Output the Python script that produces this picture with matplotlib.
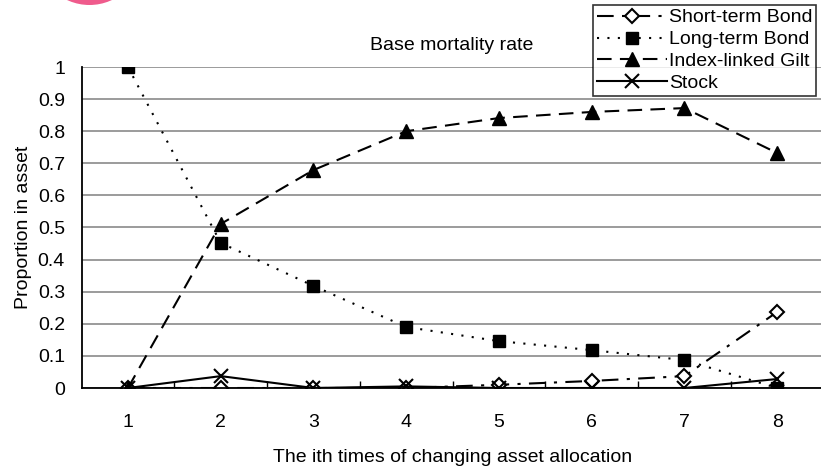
import matplotlib.pyplot as plt
from matplotlib.patches import Circle
from matplotlib.transforms import IdentityTransform

plt.rcParams['font.family'] = ['Liberation Sans', 'DejaVu Sans']

times = [1, 2, 3, 4, 5, 6, 7, 8]
short_bond = [0, 0, 0, 0, 0.01, 0.022, 0.037, 0.237]
long_bond = [1.0, 0.452, 0.318, 0.19, 0.146, 0.118, 0.087, 0.0]
gilt = [0, 0.511, 0.679, 0.80, 0.841, 0.86, 0.872, 0.732]
stock = [0, 0.037, 0, 0.005, 0, 0, 0, 0.028]

fig = plt.figure(figsize=(8.21, 4.73), dpi=100)
ax = fig.add_axes([81.6 / 821, 85 / 473, 742 / 821, 321 / 473])

ax.plot(times, short_bond, color='black', lw=1.5, dashes=(8, 4, 1.5, 4),
        marker='D', ms=7, mfc='white', mec='black', mew=1.5, label='Short-term Bond')
ax.plot(times, long_bond, color='black', lw=1.5, linestyle=(0, (1, 4)),
        marker='s', ms=8, mfc='black', mec='black', label='Long-term Bond')
ax.plot(times, gilt, color='black', lw=1.5, dashes=(7, 4),
        marker='^', ms=10, mfc='black', mec='black', label='Index-linked Gilt')
ax.plot(times, stock, color='black', lw=1.5, linestyle='-',
        marker='x', ms=10, mew=1.5, label='Stock')

ax.set_xlim(0.5, 8.5)
ax.set_ylim(0, 1.0)
ax.set_yticks([i / 10 for i in range(11)])
ax.set_yticklabels(['0'] + [f'{i / 10:.1f}' for i in range(1, 10)] + ['1'])
ax.set_xticks(times)
ax.set_xticks([t + 0.5 for t in times[:-1]], minor=True)
ax.tick_params(axis='x', which='major', length=0, pad=19, labelsize=14)
ax.tick_params(axis='x', which='minor', length=5, direction='in', width=1)
ax.tick_params(axis='y', length=0, pad=12, labelsize=14)

ax.yaxis.grid(True, color='#8a8a8a', lw=1.2)
ax.set_axisbelow(True)
for side in ['top', 'right']:
    ax.spines[side].set_visible(False)
ax.spines['left'].set_linewidth(1.3)
ax.spines['bottom'].set_linewidth(1.3)

ax.set_xlabel('The ith times of changing asset allocation', fontsize=14, labelpad=13)
ax.set_ylabel('Proportion in asset', fontsize=14, labelpad=4)

fig.text(452 / 821, 1 - 45 / 473, 'Base mortality rate', fontsize=14,
         ha='center', va='center')

leg = fig.legend(loc='upper left', bbox_to_anchor=(593 / 821, 1 - 5 / 473),
                 fontsize=14, frameon=True, fancybox=False, handlelength=3.6,
                 handletextpad=0.1, labelspacing=0.22, borderpad=0.2,
                 borderaxespad=0)
leg.get_frame().set_edgecolor('black')
leg.get_frame().set_linewidth(1.2)

# pink blob cut off at the top edge
fig.patches.append(Circle((89.5, 473 + 48), 53, transform=IdentityTransform(),
                          color='#ef5b8c', lw=0, zorder=10))

fig.savefig('out.png', dpi=100)
